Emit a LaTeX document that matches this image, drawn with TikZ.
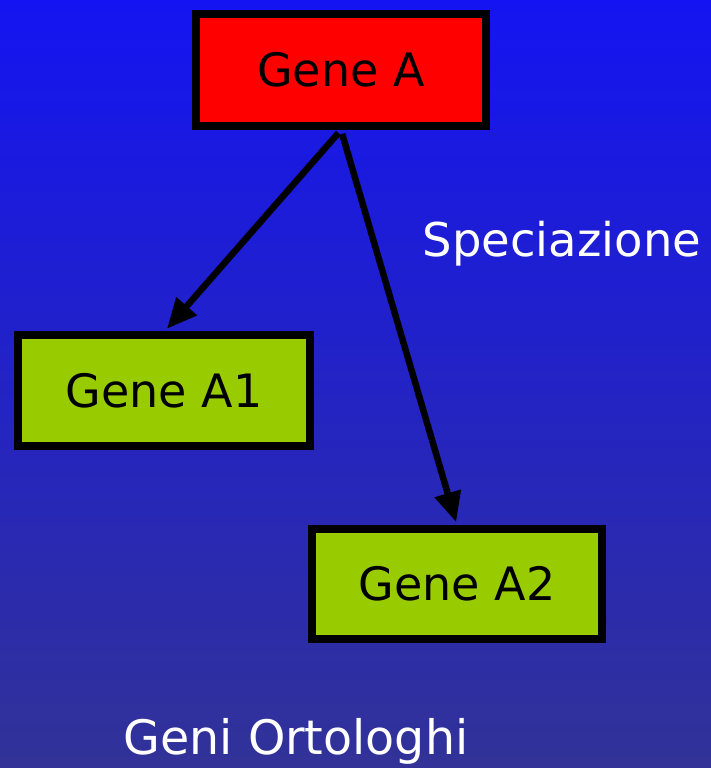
\documentclass[tikz,border=0pt]{standalone}
\usepackage{fontspec}
\setmainfont{DejaVu Sans}
\usetikzlibrary{arrows.meta,calc}
\definecolor{bgtop}{RGB}{20,20,242}
\definecolor{bgbot}{RGB}{50,50,152}
\definecolor{genered}{RGB}{255,0,0}
\definecolor{genegreen}{RGB}{153,204,0}
\tikzset{
  genebox/.style={draw=black, line width=8pt, inner sep=0pt,
    minimum width=290pt, minimum height=111pt,
    font=\fontsize{46}{54}\selectfont, text=black},
  conn/.style={line width=6.5pt, -{Triangle[length=30pt,width=26pt]},
    shorten >=3pt, shorten <=4pt},
  lbl/.style={text=white, font=\fontsize{47.5}{56}\selectfont, inner sep=0pt}
}
\begin{document}
\begin{tikzpicture}[x=1pt,y=-1pt]
\useasboundingbox (0,0) rectangle (711,768);
\shade[top color=bgtop, bottom color=bgbot] (0,0) rectangle (711,768);
\node[genebox, fill=genered, minimum height=112pt] (gA) at (341,70) {Gene A};
\node[genebox, fill=genegreen, minimum width=292pt] (gA1) at (164,390.5) {Gene A1};
\node[genebox, fill=genegreen, minimum height=110pt] (gA2) at (457,584) {Gene A2};
\draw[conn] (gA.south) -- ($(gA1.north)+(1,0)$);
\draw[conn] (gA.south) -- (gA2.north);
\node[lbl, font=\fontsize{46.5}{55}\selectfont] (spec) at (562,244) {Speciazione};
\node[lbl] (orto) at (296,741) {Geni Ortologhi};
\end{tikzpicture}
\end{document}
